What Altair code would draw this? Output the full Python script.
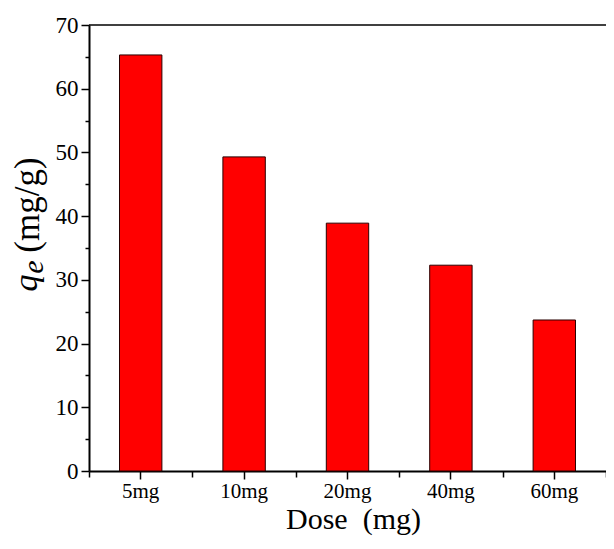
import altair as alt
import pandas as pd

doses = ["5mg", "10mg", "20mg", "40mg", "60mg"]
qe = [65.3, 49.3, 38.9, 32.3, 23.7]
major_y = [0, 10, 20, 30, 40, 50, 60, 70]
minor_y = [5, 15, 25, 35, 45, 55, 65]

df = pd.DataFrame({"dose": doses, "qe": qe})
FONT = "Liberation Serif"
W, H = 517, 446

yscale = alt.Scale(domain=[0, 70], nice=False, zero=True)

bars = alt.Chart(df).mark_bar(
    color="#FF0000", stroke="#2a0000", strokeWidth=1
).encode(
    x=alt.X("dose:N", sort=doses,
            scale=alt.Scale(paddingInner=0.59, paddingOuter=0.295),
            axis=alt.Axis(orient="bottom", title="Dose\u00a0\u00a0(mg)", labelAngle=0,
                          tickSize=8, tickWidth=1.5, domainWidth=2,
                          domainColor="black", tickColor="black",
                          labelFont=FONT, labelFontSize=21, labelColor="black",
                          labelPadding=1, titleFont=FONT, titleFontSize=30,
                          titleFontWeight="normal", titleColor="black",
                          titlePadding=3, titleX=264)),
    y=alt.Y("qe:Q", scale=yscale,
            axis=alt.Axis(values=major_y, title=None, tickSize=8,
                          tickWidth=1.5, domainWidth=2, domainColor="black",
                          tickColor="black", labelFont=FONT, labelFontSize=23,
                          labelColor="black", labelPadding=3, grid=False)),
)

minor = alt.Chart(df).mark_bar(opacity=0).encode(
    x=alt.X("dose:N", sort=doses,
            scale=alt.Scale(paddingInner=0, paddingOuter=0),
            axis=alt.Axis(orient="bottom", tickBand="extent", labels=False,
                          domain=False, title=None, tickSize=6, tickWidth=1.5,
                          tickColor="black")),
    y=alt.Y("qe:Q", scale=yscale,
            axis=alt.Axis(orient="left", values=minor_y, labels=False,
                          domain=False, title=None, tickSize=4, tickWidth=1.5,
                          tickColor="black", grid=False)),
)

top = alt.Chart(pd.DataFrame({"v": [70]})).mark_rule(
    color="black", strokeWidth=1.5
).encode(y=alt.Y("v:Q", scale=yscale, axis=None))

one = pd.DataFrame({"a": [0]})
t_q = alt.Chart(one).mark_text(
    text="q", font=FONT, fontSize=34, fontStyle="italic", angle=270,
    align="center", baseline="middle", color="black"
).encode(x=alt.value(-62), y=alt.value(258))
t_e = alt.Chart(one).mark_text(
    text="e", font=FONT, fontSize=30, fontStyle="italic", angle=270,
    align="center", baseline="middle", color="black"
).encode(x=alt.value(-55), y=alt.value(242))
t_u = alt.Chart(one).mark_text(
    text="(mg/g)", font=FONT, fontSize=35, angle=270,
    align="center", baseline="middle", color="black"
).encode(x=alt.value(-61), y=alt.value(180))

chart = alt.layer(bars, minor, top, t_q, t_e, t_u).resolve_scale(
    x="independent"
).resolve_axis(x="independent", y="independent").properties(
    width=W, height=H,
    autosize=alt.AutoSizeParams(type="none"),
    padding={"left": 81, "top": 17, "right": 0, "bottom": 65},
    background="white",
).configure_view(stroke=None)

chart.save("out.html", embed_options={"renderer": "svg", "actions": False})
